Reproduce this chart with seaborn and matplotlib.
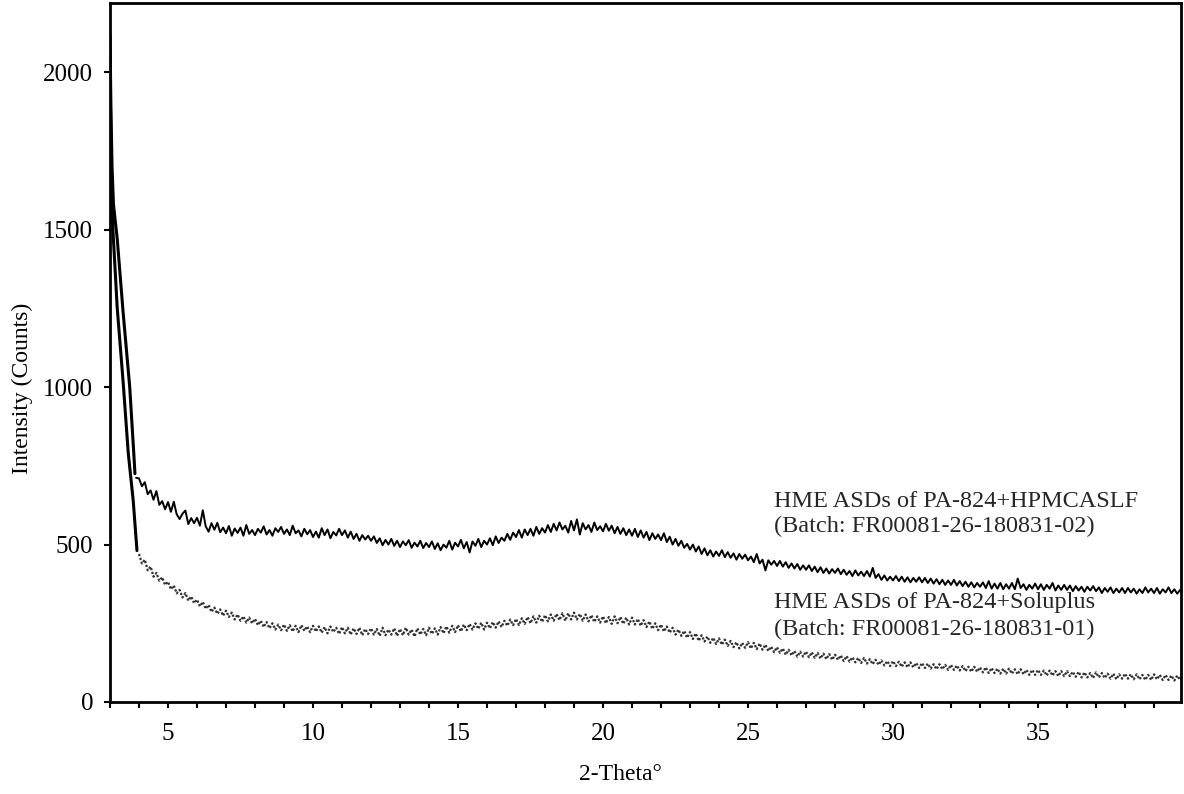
import numpy as np
import pandas as pd
import matplotlib
matplotlib.use("Agg")
import matplotlib.pyplot as plt
import seaborn as sns
from matplotlib.ticker import MultipleLocator, NullFormatter

# ---------------- data ----------------
series_names = ["HME ASDs of PA-824+HPMCASLF", "HME ASDs of PA-824+Soluplus"]
batch_names = ["(Batch: FR00081-26-180831-02)", "(Batch: FR00081-26-180831-01)"]

# steep low-angle part
hpmc_steep_x = [3.00, 3.03, 3.07, 3.12, 3.25, 3.45, 3.68, 3.82, 3.86]
hpmc_steep_y = [2120, 1900, 1700, 1580, 1470, 1240, 1000, 790, 725]
solu_steep_x = [3.00, 3.03, 3.06, 3.10, 3.25, 3.45, 3.63, 3.80, 3.93]
solu_steep_y = [2000, 1800, 1620, 1500, 1250, 1020, 790, 640, 481]

# noisy part, 0.1 degree steps
hpmc_start, solu_start, step = 3.9, 4.0, 0.1
hpmc_counts = [
    712,
    710, 685, 698, 660, 672, 642, 670, 626, 638, 612,
    635, 604, 636, 596, 581, 598, 608, 565, 584, 568,
    585, 560, 609, 558, 541, 568, 547, 569, 539, 554,
    536, 559, 528, 551, 537, 554, 528, 562, 534, 546,
    530, 550, 538, 558, 532, 546, 528, 552, 540, 556,
    534, 548, 530, 560, 536, 545, 526, 550, 533, 546,
    524, 541, 522, 552, 530, 548, 520, 540, 529, 550,
    530, 545, 522, 541, 518, 534, 512, 530, 516, 528,
    512, 526, 505, 520, 498, 515, 500, 518, 496, 512,
    492, 510, 498, 514, 490, 506, 494, 512, 489, 505,
    492, 510, 486, 504, 482, 500, 490, 512, 484, 506,
    494, 515, 488, 508, 475, 510, 496, 518, 492, 512,
    500, 520, 498, 526, 505, 522, 512, 534, 515, 538,
    524, 546, 522, 548, 530, 550, 528, 556, 534, 552,
    538, 562, 540, 566, 545, 570, 548, 560, 538, 575,
    545, 580, 532, 568, 548, 562, 540, 570, 546, 558,
    542, 566, 544, 560, 536, 556, 534, 552, 530, 548,
    528, 550, 524, 545, 522, 540, 514, 536, 518, 532,
    514, 536, 508, 525, 500, 518, 496, 512, 490, 502,
    484, 500, 478, 494, 470, 488, 466, 482, 462, 478,
    464, 482, 460, 476, 458, 472, 452, 470, 455, 468,
    450, 462, 444, 470, 440, 452, 418, 450, 436, 448,
    432, 448, 430, 444, 426, 440, 424, 438, 420, 434,
    420, 434, 416, 430, 412, 428, 410, 424, 408, 422,
    410, 424, 406, 420, 404, 416, 400, 418, 402, 414,
    400, 416, 398, 426, 394, 406, 388, 402, 386, 398,
    386, 400, 384, 398, 382, 396, 380, 394, 382, 396,
    380, 394, 378, 392, 376, 390, 374, 388, 372, 386,
    372, 388, 370, 384, 368, 382, 366, 380, 364, 378,
    366, 380, 362, 384, 360, 376, 360, 378, 358, 374,
    360, 378, 358, 392, 362, 374, 356, 372, 360, 376,
    358, 374, 356, 372, 360, 378, 354, 370, 356, 372,
    356, 370, 352, 368, 354, 366, 350, 366, 354, 368,
    352, 364, 346, 362, 350, 364, 346, 360, 348, 362,
    346, 362, 348, 360, 344, 358, 346, 364, 348, 360,
    346, 362, 344, 358, 348, 364, 346, 358, 344, 356,
    350,
]
solu_counts = [
    470, 440, 452, 418, 430, 398, 410, 385, 396, 372,
    382, 358, 370, 345, 356, 332, 346, 322, 335, 314,
    325, 304, 318, 296, 308, 286, 300, 280, 294, 274,
    290, 270, 284, 262, 278, 258, 272, 252, 268, 250,
    264, 244, 258, 238, 254, 234, 250, 230, 246, 228,
    246, 226, 244, 224, 242, 222, 244, 226, 240, 222,
    242, 224, 240, 220, 238, 218, 240, 222, 236, 216,
    238, 218, 236, 214, 234, 216, 236, 212, 232, 216,
    234, 214, 232, 210, 236, 212, 230, 214, 234, 210,
    232, 212, 236, 214, 230, 208, 234, 214, 232, 212,
    236, 216, 234, 214, 238, 218, 240, 220, 242, 222,
    244, 224, 246, 228, 248, 230, 250, 232, 252, 230,
    252, 234, 254, 236, 256, 238, 258, 242, 262, 244,
    264, 244, 266, 248, 270, 250, 272, 252, 274, 254,
    276, 256, 278, 258, 280, 260, 282, 258, 282, 262,
    284, 262, 280, 258, 278, 256, 276, 254, 272, 252,
    272, 250, 270, 248, 272, 250, 270, 248, 268, 246,
    268, 246, 264, 242, 260, 238, 256, 232, 250, 228,
    246, 224, 240, 220, 236, 214, 230, 210, 226, 204,
    222, 200, 218, 194, 212, 192, 208, 188, 204, 184,
    202, 182, 198, 178, 194, 174, 190, 170, 188, 172,
    190, 170, 188, 168, 186, 166, 182, 162, 176, 158,
    174, 156, 170, 150, 166, 148, 162, 144, 160, 144,
    160, 142, 158, 140, 156, 138, 154, 136, 152, 134,
    150, 134, 148, 130, 146, 128, 142, 126, 140, 124,
    140, 122, 136, 120, 134, 118, 132, 116, 130, 114,
    130, 114, 128, 112, 126, 110, 126, 110, 124, 108,
    124, 108, 122, 106, 120, 104, 120, 104, 118, 102,
    118, 102, 116, 100, 114, 98, 112, 96, 112, 96,
    110, 94, 110, 92, 108, 92, 106, 90, 106, 90,
    106, 90, 104, 88, 104, 88, 102, 86, 102, 86,
    102, 86, 100, 84, 100, 84, 98, 82, 98, 82,
    98, 82, 96, 80, 96, 78, 94, 78, 92, 76,
    94, 78, 92, 76, 90, 74, 90, 72, 88, 74,
    90, 74, 88, 72, 88, 72, 86, 70, 86, 70,
    88, 72, 86, 70, 86, 70, 84, 68, 84, 70,
    82,
]

x_ticks = [5, 10, 15, 20, 25, 30, 35]
y_ticks = [0, 500, 1000, 1500, 2000]

# sampling positions of the noisy scans
hpmc_x = np.round(hpmc_start + step * np.arange(len(hpmc_counts)), 2)
solu_x = np.round(solu_start + step * np.arange(len(solu_counts)), 2)

df_hpmc = pd.DataFrame({"theta": hpmc_x, "counts": hpmc_counts})
df_solu = pd.DataFrame({"theta": solu_x, "counts": solu_counts})
df_hpmc_s = pd.DataFrame({"theta": hpmc_steep_x, "counts": hpmc_steep_y})
df_solu_s = pd.DataFrame({"theta": solu_steep_x, "counts": solu_steep_y})

# ---------------- figure ----------------
sns.set_style("ticks")
plt.rcParams["font.family"] = ["Liberation Serif", "DejaVu Serif"]

fig = plt.figure(figsize=(11.84, 7.94), dpi=100)
ax = fig.add_axes([110 / 1184, 92 / 794, 1071 / 1184, 699 / 794])

# Soluplus (dark speckled scan)
sns.lineplot(data=df_solu, x="theta", y="counts", ax=ax, color="#333333",
             lw=1.6, linestyle=(0, (1.0, 0.8)), estimator=None, sort=False)
sns.lineplot(data=df_solu_s, x="theta", y="counts", ax=ax, color="black",
             lw=2.2, estimator=None, sort=False)
# HPMCASLF (black scan)
sns.lineplot(data=df_hpmc, x="theta", y="counts", ax=ax, color="black",
             lw=1.4, estimator=None, sort=False)
sns.lineplot(data=df_hpmc_s, x="theta", y="counts", ax=ax, color="black",
             lw=2.2, estimator=None, sort=False)

ax.set_xlim(3, 39.93)
ax.set_ylim(0, 2220)
ax.set_xticks(x_ticks)
ax.set_xticklabels([str(t) for t in x_ticks])
ax.xaxis.set_minor_locator(MultipleLocator(1))
ax.xaxis.set_minor_formatter(NullFormatter())
ax.set_yticks(y_ticks)
ax.set_yticklabels([str(t) for t in y_ticks])

ax.tick_params(axis="both", which="both", direction="out", length=4, width=1.5,
               color="black", labelsize=18, labelcolor="black")
ax.tick_params(axis="x", which="major", pad=11)
ax.tick_params(axis="y", which="major", pad=8)

for sp in ax.spines.values():
    sp.set_visible(True)
    sp.set_linewidth(2)
    sp.set_color("black")

ax.set_xlabel("2-Theta\u00b0", fontsize=17, color="black")
ax.set_ylabel("Intensity (Counts)", fontsize=17, color="black")
ax.xaxis.set_label_coords((620 - 110) / 1071, (702 - 764) / 699)
ax.yaxis.set_label_coords((33 - 110) / 1071, (704 - 390) / 699)

# annotations
ax.text(25.9, 620, series_names[0], fontsize=17.5, va="baseline", ha="left")
ax.text(25.9, 541, batch_names[0], fontsize=17.5, va="baseline", ha="left")
ax.text(25.9, 297, series_names[1], fontsize=17.5, va="baseline", ha="left")
ax.text(25.9, 212, batch_names[1], fontsize=17.5, va="baseline", ha="left")

ax.grid(False)
fig.savefig("out.png", dpi=100, facecolor="white")
